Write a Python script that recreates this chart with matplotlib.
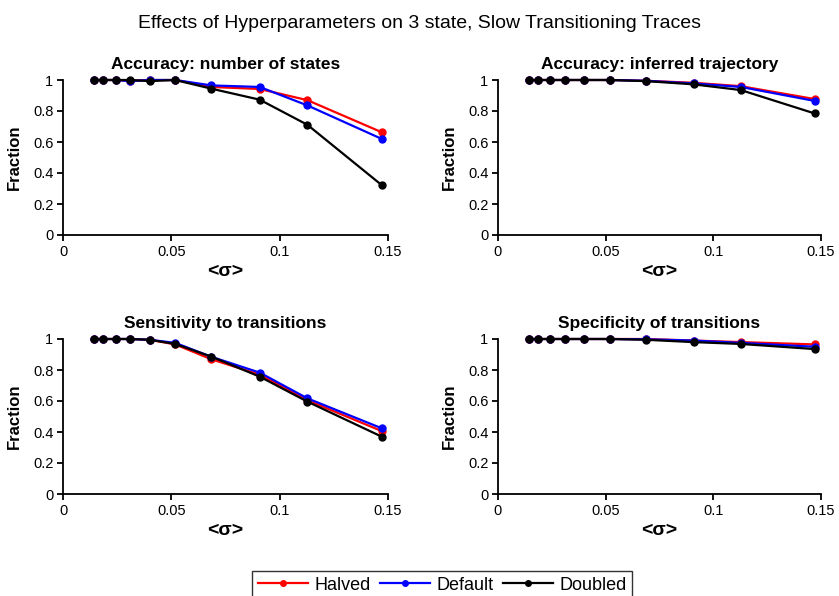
import matplotlib
matplotlib.use("Agg")
import matplotlib.pyplot as plt
from matplotlib.ticker import FuncFormatter

plt.rcParams["font.family"] = ["Liberation Sans", "DejaVu Sans"]

# Mean noise level <sigma> for each trace set
sigma = [0.0143, 0.0186, 0.0243, 0.0309, 0.0400, 0.0518, 0.0685, 0.0908, 0.1128, 0.1471]

series_names = ["Halved", "Default", "Doubled"]
series_colors = ["#FF0000", "#0000FF", "#000000"]

titles = [
    "Accuracy: number of states",
    "Accuracy: inferred trajectory",
    "Sensitivity to transitions",
    "Specificity of transitions",
]

# Fractions per panel: halved, default, doubled
states_halved = [1.0, 1.0, 1.0, 0.995, 1.0, 1.0, 0.955, 0.942, 0.870, 0.663]
states_default = [1.0, 1.0, 1.0, 0.993, 1.0, 1.0, 0.965, 0.955, 0.836, 0.620]
states_doubled = [1.0, 1.0, 1.0, 1.0, 0.993, 1.0, 0.944, 0.873, 0.711, 0.322]

traj_halved = [1.0, 1.0, 1.0, 1.0, 1.0, 1.0, 0.995, 0.982, 0.960, 0.877]
traj_default = [1.0, 1.0, 1.0, 1.0, 1.0, 1.0, 0.995, 0.978, 0.955, 0.865]
traj_doubled = [1.0, 1.0, 1.0, 1.0, 1.0, 1.0, 0.993, 0.972, 0.935, 0.784]

sens_halved = [1.0, 1.0, 1.0, 1.0, 0.995, 0.965, 0.869, 0.770, 0.605, 0.406]
sens_default = [1.0, 1.0, 1.0, 1.0, 0.995, 0.975, 0.885, 0.783, 0.617, 0.424]
sens_doubled = [1.0, 1.0, 1.0, 1.0, 0.995, 0.968, 0.886, 0.757, 0.596, 0.370]

spec_halved = [1.0, 1.0, 1.0, 1.0, 1.0, 1.0, 1.0, 0.99, 0.98, 0.965]
spec_default = [1.0, 1.0, 1.0, 1.0, 1.0, 1.0, 0.998, 0.99, 0.975, 0.950]
spec_doubled = [1.0, 1.0, 1.0, 1.0, 1.0, 1.0, 0.995, 0.980, 0.968, 0.935]

panels = [
    [states_halved, states_default, states_doubled],
    [traj_halved, traj_default, traj_doubled],
    [sens_halved, sens_default, sens_doubled],
    [spec_halved, spec_default, spec_doubled],
]

fig = plt.figure(figsize=(8.39, 5.96), dpi=100)
fig.suptitle("Effects of Hyperparameters on 3 state, Slow Transitioning Traces",
             fontsize=14, y=0.975)

W, H = 839, 596
# axes boxes in pixels: left, right, top, bottom
boxes = [(63, 388, 80, 235), (498, 821, 80, 235),
         (63, 388, 339, 494), (498, 821, 339, 494)]

fmt = FuncFormatter(lambda v, _: f"{v:g}")
lines = []
for box, title, data in zip(boxes, titles, panels):
    l, r, t, b = box
    ax = fig.add_axes([l / W, 1 - b / H, (r - l) / W, (b - t) / H])
    for vals, name, color in zip(data, series_names, series_colors):
        ln, = ax.plot(sigma, vals, color=color, lw=1.6, marker="o",
                      markersize=5, label=name, clip_on=False, zorder=3)
        lines.append(ln)
    ax.set_xlim(0, 0.15)
    ax.set_ylim(0, 1)
    ax.set_xticks([0, 0.05, 0.1, 0.15])
    ax.set_yticks([0, 0.2, 0.4, 0.6, 0.8, 1.0])
    ax.xaxis.set_major_formatter(fmt)
    ax.yaxis.set_major_formatter(fmt)
    ax.spines["top"].set_visible(False)
    ax.spines["right"].set_visible(False)
    for s in ("left", "bottom"):
        ax.spines[s].set_linewidth(1.3)
    ax.tick_params(direction="out", length=4, width=1.3, labelsize=10.5, pad=3)
    ax.set_title(title, fontsize=12.5, fontweight="bold", pad=8)
    ax.set_ylabel("Fraction", fontsize=12, fontweight="bold", labelpad=8)
    ax.set_xlabel("<σ>", fontsize=14, fontweight="bold", labelpad=3)

leg = fig.legend(lines[:3], series_names, loc="lower center", ncol=3,
                 bbox_to_anchor=(0.527, -0.014), fontsize=13, frameon=True,
                 fancybox=False, edgecolor="black", handlelength=2.8,
                 columnspacing=0.5, handletextpad=0.35, borderpad=0.3,
                 borderaxespad=0.3)
leg.get_frame().set_linewidth(1.0)
for h in leg.legend_handles:
    h.set_markersize(4)

fig.savefig("out.png", dpi=100)
